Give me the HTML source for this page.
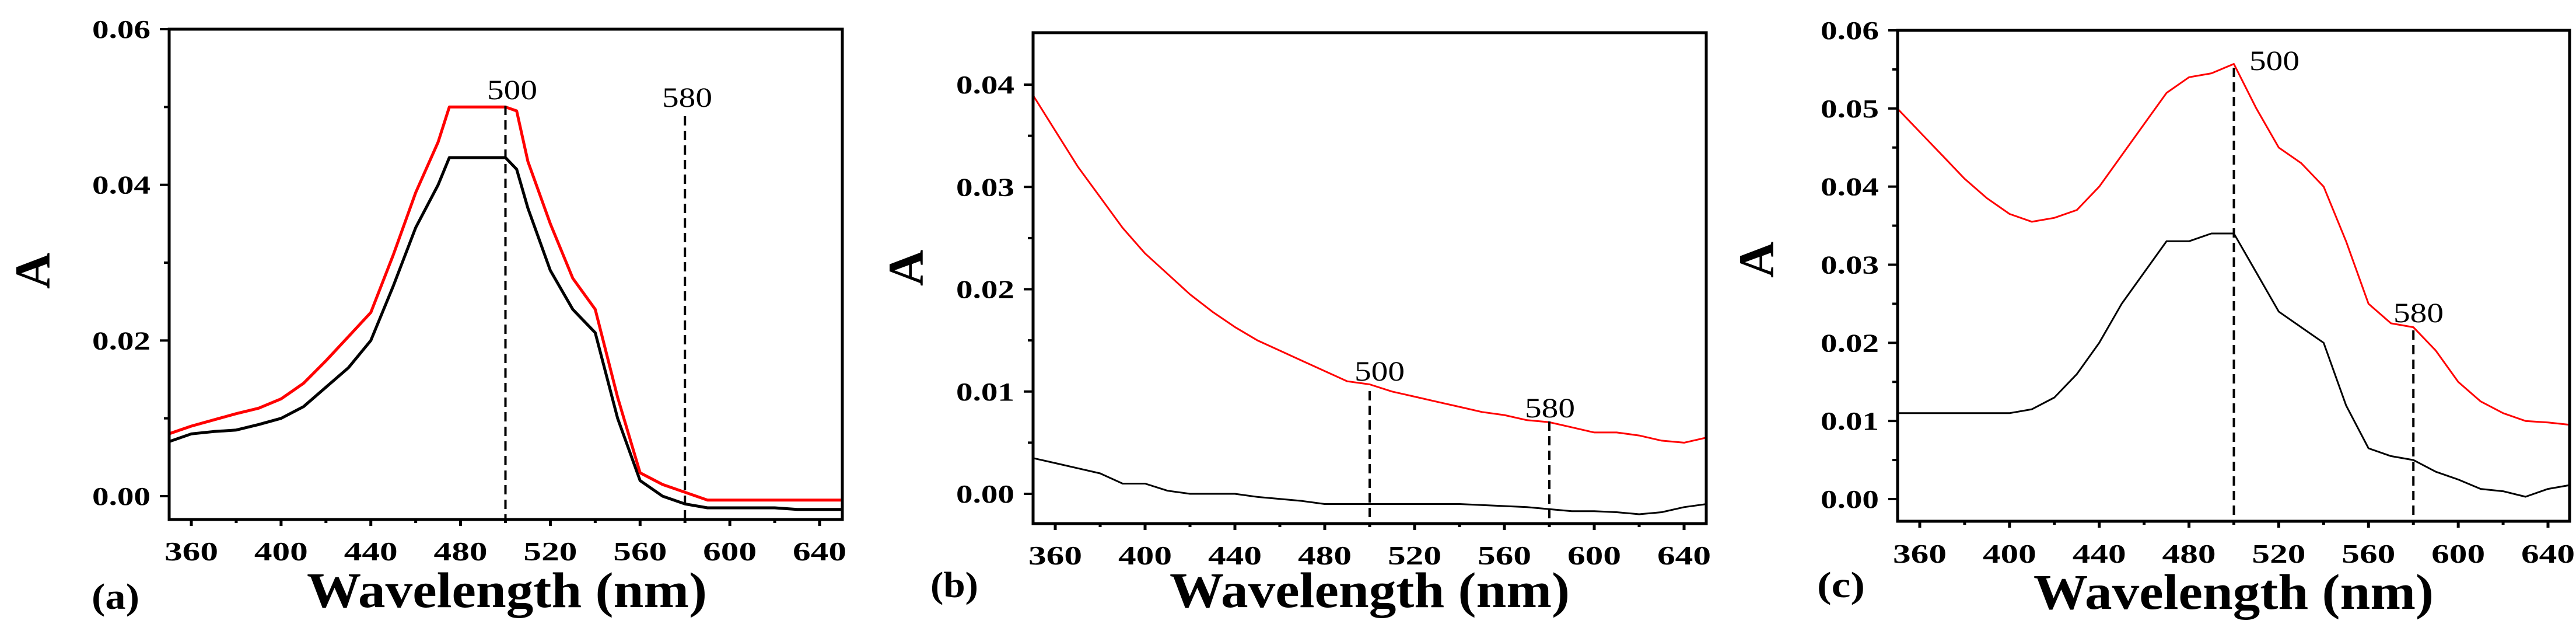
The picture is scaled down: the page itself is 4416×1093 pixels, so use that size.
<!DOCTYPE html>
<html><head><meta charset="utf-8"><style>
html,body{margin:0;padding:0;background:#fff;overflow:hidden}
svg{display:block}
text{font-family:"Liberation Serif",serif}
</style></head><body>
<svg id="fig" width="4416" height="1093" viewBox="0 0 4416 1093" xmlns="http://www.w3.org/2000/svg"></svg>
<script>
const wlA=[350,360,370,380,390,400,410,420,430,440,450,460,470,475,480,490,500,505,510,520,530,540,550,560,570,580,590,600,610,620,630,640,650];
const redA=[0.008,0.009,0.0098,0.0106,0.0113,0.0125,0.0145,0.0174,0.0205,0.0236,0.031,0.039,0.0455,0.050,0.050,0.050,0.050,0.0495,0.043,0.035,0.028,0.024,0.0127,0.003,0.0015,0.0005,-0.0005,-0.0005,-0.0005,-0.0005,-0.0005,-0.0005,-0.0005];
const blackA=[0.007,0.008,0.0083,0.0085,0.0092,0.010,0.0115,0.014,0.0165,0.020,0.027,0.0345,0.040,0.0435,0.0435,0.0435,0.0435,0.042,0.037,0.029,0.024,0.021,0.010,0.002,0.000,-0.001,-0.0015,-0.0015,-0.0015,-0.0015,-0.0017,-0.0017,-0.0017];
const wlB=[350,360,370,380,390,400,410,420,430,440,450,460,470,480,490,500,510,520,530,540,550,560,570,580,590,600,610,620,630,640,650];
const redB=[0.039,0.0355,0.032,0.029,0.026,0.0235,0.0215,0.0195,0.0178,0.0163,0.015,0.014,0.013,0.012,0.011,0.0107,0.010,0.0095,0.009,0.0085,0.008,0.0077,0.0072,0.007,0.0065,0.006,0.006,0.0057,0.0052,0.005,0.0055];
const blackB=[0.0035,0.003,0.0025,0.002,0.001,0.001,0.0003,0.0,0.0,0.0,-0.0003,-0.0005,-0.0007,-0.001,-0.001,-0.001,-0.001,-0.001,-0.001,-0.001,-0.0011,-0.0012,-0.0013,-0.0015,-0.0017,-0.0017,-0.0018,-0.002,-0.0018,-0.0013,-0.001];
const wlC=[350,360,370,380,390,400,410,420,430,440,450,460,470,480,490,500,510,520,530,540,550,560,570,580,590,600,610,620,630,640,650];
const redC=[0.050,0.047,0.044,0.041,0.0385,0.0365,0.0355,0.036,0.037,0.040,0.044,0.048,0.052,0.054,0.0545,0.0557,0.050,0.045,0.043,0.040,0.033,0.025,0.0225,0.022,0.019,0.015,0.0125,0.011,0.010,0.0098,0.0095];
const blackC=[0.011,0.011,0.011,0.011,0.011,0.011,0.0115,0.013,0.016,0.020,0.025,0.029,0.033,0.033,0.034,0.034,0.029,0.024,0.022,0.020,0.012,0.0065,0.0055,0.005,0.0035,0.0025,0.0013,0.001,0.0003,0.0013,0.0018];
const xTicks=[360,400,440,480,520,560,600,640];
const yTicksA=[0.00,0.02,0.04,0.06];
const yTicksB=[0.00,0.01,0.02,0.03,0.04];
const yTicksC=[0.00,0.01,0.02,0.03,0.04,0.05,0.06];

const NS="http://www.w3.org/2000/svg";
const svg=document.getElementById('fig');
function mk(tag,attrs,parent){const e=document.createElementNS(NS,tag);for(const k in attrs)e.setAttribute(k,attrs[k]);(parent||svg).appendChild(e);return e;}

function panel(p){
  const g=mk('g',{});
  
  
  const X=w=>p.x360+(w-360)*(p.x640-p.x360)/280;
  const Y=v=>p.y0+(v-p.v0)*(p.y1-p.y0)/(p.v1-p.v0);
  const tk=mk('g',{stroke:'#000','stroke-width':5},g);
  
  
  for(let w=360;w<=640;w+=20){const L=(w-360)%40===0?11:6;mk('line',{x1:X(w),x2:X(w),y1:p.B,y2:p.B+L},tk);}
  xTicks.forEach(w=>{
    const t=mk('text',{x:X(w),y:p.xly,'text-anchor':'middle','font-size':46,'font-weight':'bold',textLength:92,lengthAdjust:'spacingAndGlyphs'},g);
    
    
    t.textContent=String(w);
  });
  const step=p.yt[1]-p.yt[0];
  for(let v=p.yt[0];v<=p.yt[p.yt.length-1]+1e-9;v+=step/2){
    const major=Math.abs(Math.round(v/step)*step-v)<1e-9;
    mk('line',{x1:p.L-(major?16:9),x2:p.L,y1:Y(v),y2:Y(v),stroke:'#000','stroke-width':4},g);
  }
  p.yt.forEach(v=>{
    const t=mk('text',{x:p.L-32,y:Y(v)+15,'text-anchor':'end','font-size':44,'font-weight':'bold',textLength:100,lengthAdjust:'spacingAndGlyphs'},g);
    
    
    t.textContent=v.toFixed(2);
  });
  [[p.black,'#000',p.id==='a'?5:3],[p.red,'#f00',p.id==='a'?5:3]].forEach(([arr,c,sw],i)=>{
    let d='';
    p.wl.forEach((w,j)=>{d+=(j?'L':'M')+X(w).toFixed(1)+','+Y(arr[j]).toFixed(1);});
    const path=mk('path',{d:d,fill:'none',stroke:c,'stroke-width':sw,'stroke-linejoin':'round'},g);
    
    
  });
  p.marks.forEach(m=>{
    const ln=mk('line',{x1:X(m.w),x2:X(m.w),y1:m.top,y2:p.B,stroke:'#000','stroke-width':4,'stroke-dasharray':'16,9'},g);
    
    
    const t=mk('text',{x:m.tx,y:m.ty,'text-anchor':m.anchor,'font-size':48,textLength:86,lengthAdjust:'spacingAndGlyphs'},g);
    
    
    t.textContent=String(m.w);
  });
  const fr=mk('rect',{x:p.L,y:p.T,width:p.R-p.L,height:p.B-p.T,fill:'none',stroke:'#000','stroke-width':5},g);
  
  
  const xt=mk('text',{x:p.tx,y:p.ty,'text-anchor':'middle','font-size':86,'font-weight':'bold',textLength:686,lengthAdjust:'spacingAndGlyphs'},g);
  
  
  xt.textContent='Wavelength (nm)';
  const yt=mk('text',{x:0,y:0,'text-anchor':'middle','font-size':86,'font-weight':'bold',transform:'translate('+p.ax+','+p.ay+') rotate(-90)'},g);
  
  
  yt.textContent='A';
  const pl=mk('text',{x:p.lx,y:p.ly,'font-size':62,'font-weight':'bold',textLength:82,lengthAdjust:'spacingAndGlyphs'},g);
  
  
  pl.textContent='('+p.id+')';
}
panel({id:'a',L:290,R:1444,T:50,B:890,x360:328,x640:1405,v0:0,v1:0.06,y0:850,y1:50,yt:yTicksA,wl:wlA,red:redA,black:blackA,
  xly:960,tx:869,ty:1040,ax:85,ay:464,lx:157,ly:1043,
  marks:[{w:500,top:181,tx:878,ty:170,anchor:'middle'},{w:580,top:199,tx:1178,ty:183,anchor:'middle'}]});
panel({id:'b',L:1771,R:2925,T:56,B:897,x360:1809,x640:2887,v0:0,v1:0.04,y0:846,y1:145,yt:yTicksB,wl:wlB,red:redB,black:blackB,
  xly:967,tx:2348,ty:1040,ax:1582,ay:459,lx:1595,ly:1023,
  marks:[{w:500,top:670,tx:2365,ty:652,anchor:'middle'},{w:580,top:722,tx:2657,ty:715,anchor:'middle'}]});
panel({id:'c',L:3253,R:4405,T:52,B:893,x360:3291,x640:4368,v0:0,v1:0.06,y0:855,y1:52,yt:yTicksC,wl:wlC,red:redC,black:blackC,
  xly:964,tx:3829,ty:1043,ax:3040,ay:445,lx:3115,ly:1023,
  marks:[{w:500,top:116,tx:3856,ty:120,anchor:'start'},{w:580,top:566,tx:4103,ty:552,anchor:'start'}]});
</script>
</body></html>
